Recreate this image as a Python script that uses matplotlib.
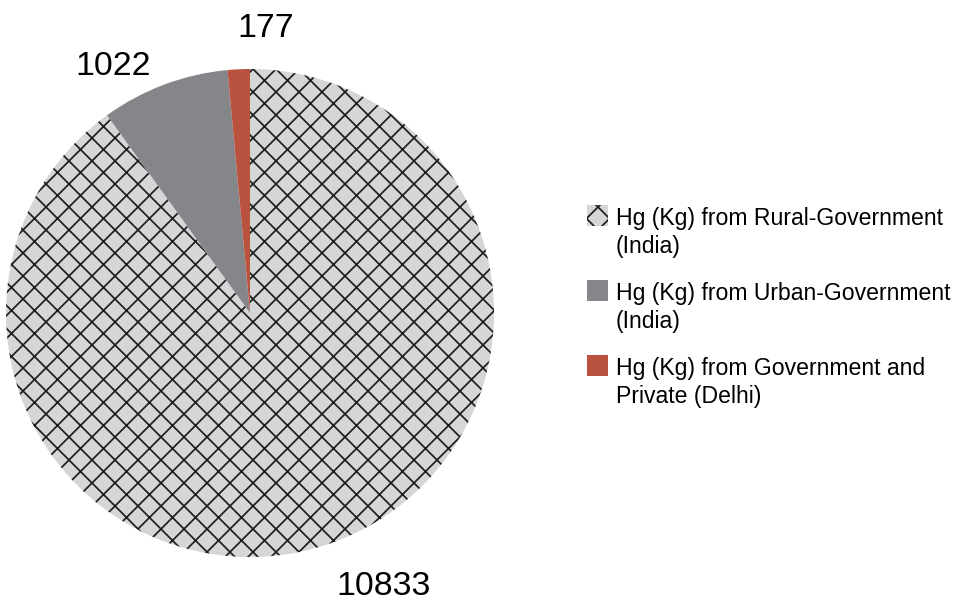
import matplotlib
matplotlib.use("Agg")
import matplotlib.pyplot as plt
from matplotlib.patches import Rectangle

# Mercury (Hg, kg) by source
sources = [
    "Hg (Kg) from Rural-Government\n(India)",
    "Hg (Kg) from Urban-Government\n(India)",
    "Hg (Kg) from Government and\nPrivate (Delhi)",
]
hg_kg = [10833, 1022, 177]
colors = ["#d5d6d8", "#85868a", "#b9533f"]
hatches = ["xx", "", ""]

DPI = 138
W, H = 955, 605
plt.rcParams["font.family"] = ["Liberation Sans", "DejaVu Sans"]
plt.rcParams["hatch.color"] = "#1e1e1e"
plt.rcParams["hatch.linewidth"] = 0.9

fig = plt.figure(figsize=(W / DPI, H / DPI), dpi=DPI)


def fx(px):
    return px / W


def fy(py):
    return 1 - py / H


# pie centre (250, 313) px, radius 244 px
cx, cy, r = 250, 313, 244
ax = fig.add_axes([fx(cx - r), fy(cy + r), 2 * r / W, 2 * r / H])
wedges, _ = ax.pie(hg_kg, colors=colors, startangle=90, counterclock=False,
                   radius=1.0, wedgeprops=dict(linewidth=0))
for w, h in zip(wedges, hatches):
    if h:
        w.set_hatch(h)
ax.set_xlim(-1, 1)
ax.set_ylim(-1, 1)
ax.set_aspect("equal")
ax.axis("off")

# value labels outside the slices (centre x, baseline y in px)
label_pos = [(384, 595), (113, 75), (266, 37)]
for v, (lx, ly) in zip(hg_kg, label_pos):
    fig.text(fx(lx), fy(ly), f"{v}", ha="center", va="baseline",
             fontsize=17.7, color="#000000")

# legend: swatch + two-line label per entry
first_baseline, entry_step, line_step = 225, 75, 28
for i, (lab, col, h) in enumerate(zip(sources, colors, hatches)):
    base = first_baseline + i * entry_step
    sw = Rectangle((fx(587), fy(base + 1)), 21 / W, 21 / H,
                   transform=fig.transFigure, facecolor=col,
                   linewidth=0, hatch=h or None)
    fig.add_artist(sw)
    for j, line in enumerate(lab.split("\n")):
        fig.text(fx(616), fy(base + j * line_step), line, ha="left",
                 va="baseline", fontsize=12.0, color="#000000")

fig.savefig("out.png", dpi=DPI, facecolor="white")
